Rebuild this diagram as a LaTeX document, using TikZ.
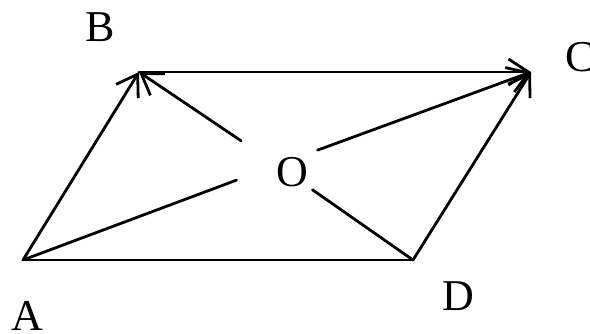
\documentclass[tikz,border=0pt]{standalone}
\usepackage{fontspec}
\setmainfont{Liberation Serif}
\usetikzlibrary{arrows.meta}
\begin{document}
\begin{tikzpicture}[x=1pt,y=-1pt,
  edgeline/.style={line width=2.8pt,line cap=round},
  arr/.style={edgeline,-{Straight Barb[length=20pt,width=26pt,line width=2.8pt]}},
  lbl/.style={font=\fontsize{44}{44}\selectfont,inner sep=0pt}]
\useasboundingbox (0,0) rectangle (590,334);
\coordinate (A) at (23,260);
\coordinate (B) at (139,72);
\coordinate (C) at (531,72);
\coordinate (D) at (413,260);
\node[circle,minimum size=86pt,inner sep=0pt] (X) at (277,165) {};
\node[lbl] (lA) at (27,316) {A};
\node[lbl] (lB) at (100,27) {B};
\node[lbl] (lC) at (580,57) {C};
\node[lbl] (lD) at (458,296) {D};
\node[lbl] (lO) at (292,172) {O};
\draw[edgeline] (A) -- (D);
\draw[arr] (A) -- (B);
\draw[arr] (B) -- (C);
\draw[arr] (D) -- (C);
\draw[edgeline] (A) -- (X);
\draw[arr] (X) -- (C);
\draw[arr] (X) -- (B);
\draw[edgeline] (D) -- (X);
\end{tikzpicture}
\end{document}
